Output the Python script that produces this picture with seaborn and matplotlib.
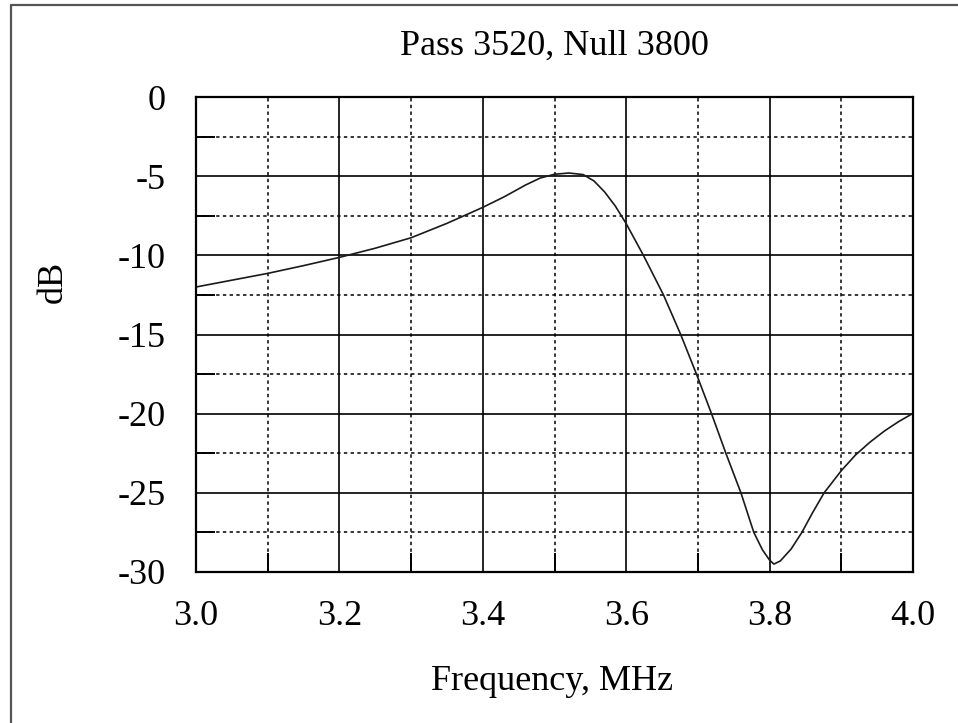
import matplotlib
matplotlib.use("Agg")
import matplotlib.pyplot as plt
from matplotlib.lines import Line2D
from matplotlib.ticker import MultipleLocator
import numpy as np
import pandas as pd
import seaborn as sns

title = "Pass 3520, Null 3800"
x_label = "Frequency, MHz"
y_label = "dB"

freq_mhz = [3.0, 3.05, 3.1, 3.15, 3.2, 3.25, 3.3, 3.35, 3.4, 3.43, 3.46, 3.48,
            3.5, 3.52, 3.54, 3.555, 3.57, 3.585, 3.6, 3.624, 3.652,
            3.676, 3.698, 3.719, 3.739, 3.76, 3.778, 3.79, 3.8, 3.806, 3.815,
            3.83, 3.845, 3.86, 3.876, 3.9, 3.92, 3.94, 3.96, 3.98, 4.0]
gain_db = [-12.0, -11.57, -11.14, -10.65, -10.13, -9.55, -8.89, -7.98, -6.97,
           -6.3, -5.55, -5.12, -4.88, -4.8, -4.9, -5.3, -6.0, -6.9, -8.0,
           -10.0, -12.5, -15.0, -17.5, -20.0, -22.5, -25.0, -27.5, -28.6,
           -29.25, -29.5, -29.3, -28.55, -27.5, -26.25, -25.0, -23.6, -22.6,
           -21.8, -21.1, -20.5, -19.98]

x_ticks = [3.0, 3.2, 3.4, 3.6, 3.8, 4.0]
x_tick_labels = ["3.0", "3.2", "3.4", "3.6", "3.8", "4.0"]
y_ticks = [0, -5, -10, -15, -20, -25, -30]
y_tick_labels = ["0", "-5", "-10", "-15", "-20", "-25", "-30"]

sns.set_style("white")
plt.rcParams["font.family"] = ["Liberation Serif", "DejaVu Serif"]
plt.rcParams["text.color"] = "black"
plt.rcParams["xtick.color"] = "black"
plt.rcParams["ytick.color"] = "black"

W, H = 958, 723
fig = plt.figure(figsize=(W / 100, H / 100), dpi=100)
ax = fig.add_axes([196 / W, 1 - 572 / H, (913 - 196) / W, (572 - 97) / H])

df = pd.DataFrame({"f": freq_mhz, "db": gain_db})
sns.lineplot(data=df, x="f", y="db", ax=ax, color="#1a1a1a", linewidth=1.2,
             sort=False, estimator=None)

ax.set_xlim(3.0, 4.0)
ax.set_ylim(-30, 0)
ax.set_xticks(x_ticks)
ax.set_xticklabels(x_tick_labels)
ax.set_yticks(y_ticks)
ax.set_yticklabels(y_tick_labels)
ax.xaxis.set_minor_locator(MultipleLocator(0.1))
ax.yaxis.set_minor_locator(MultipleLocator(2.5))

ax.grid(which="major", color="black", linewidth=1.2, linestyle="-")
ax.grid(which="minor", color="black", linewidth=1.1, linestyle=(0, (2.2, 2.2)))
ax.set_axisbelow(True)

ax.tick_params(which="major", length=0, labelsize=26, colors="black")
ax.tick_params(axis="y", which="major", pad=22)
ax.tick_params(axis="x", which="major", pad=20)
ax.tick_params(which="minor", direction="in", length=14, width=1.4,
               color="black", bottom=True, left=True, top=False, right=False)

for s in ax.spines.values():
    s.set_color("black")
    s.set_linewidth(1.6)
    s.set_visible(True)

ax.set_xlabel("")
ax.set_ylabel("")

fig.text(554 / W, 1 - 55 / H, title, ha="center", va="baseline", fontsize=26,
         color="black")
fig.text(552 / W, 1 - 682 / H, x_label, ha="center", va="center", fontsize=26,
         color="black")
fig.text(53 / W, 1 - 282 / H, y_label, ha="center", va="center",
         rotation=90, fontsize=26, color="black")

# outer frame (left and top edges visible in the reference)
fig.add_artist(Line2D([10.5 / W, 10.5 / W], [0, 1 - 5 / H],
                      transform=fig.transFigure, color="#555555", linewidth=1.6))
fig.add_artist(Line2D([10.5 / W, 1], [1 - 5 / H, 1 - 5 / H],
                      transform=fig.transFigure, color="#555555", linewidth=1.6))

fig.savefig("out.png", dpi=100, facecolor="white")
